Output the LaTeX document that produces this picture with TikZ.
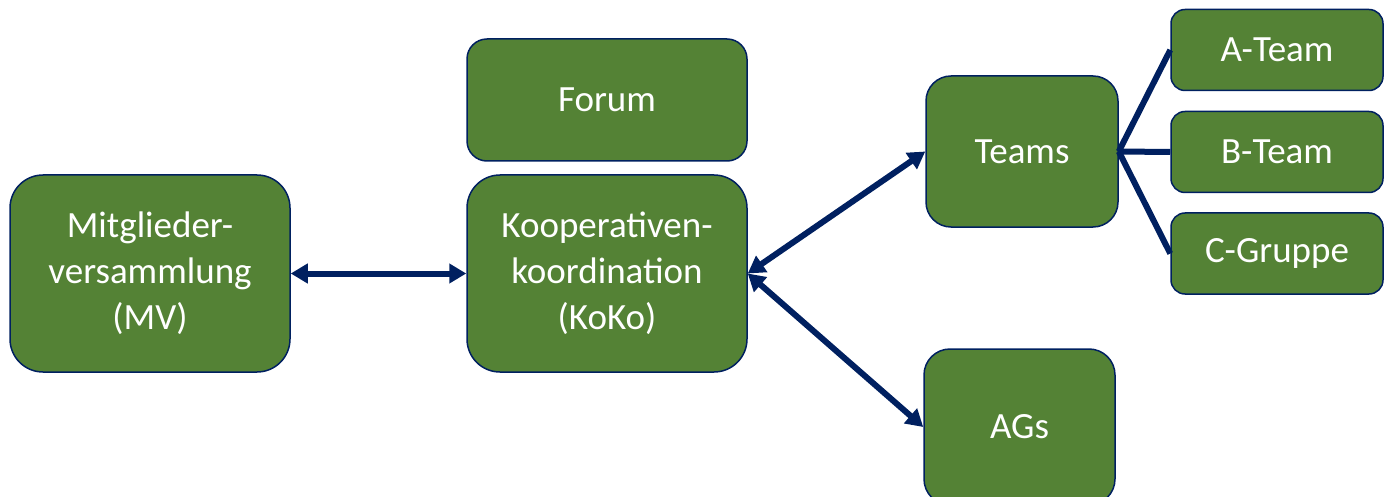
\documentclass[tikz,border=0pt]{standalone}
\usepackage{fontspec}
\setmainfont{Carlito}
\usetikzlibrary{arrows.meta}
\definecolor{navy}{HTML}{002060}
\definecolor{leaf}{HTML}{548235}
\begin{document}
\begin{tikzpicture}[x=1pt, y=-1pt, >={Triangle[length=17pt,width=19pt]},
  main/.style = {draw=navy, fill=leaf, line width=1.5pt, text=white, align=center, inner sep=0pt,
    font=\fontsize{37pt}{46pt}\selectfont},
  big/.style = {main, minimum width=280pt, minimum height=197pt, rounded corners=33pt},
  sub/.style = {main, minimum width=212pt, minimum height=81pt, rounded corners=14pt},
  link/.style = {draw=navy, line width=6pt}]
  \useasboundingbox (0,0) rectangle (1389,497);
  \node[big] (mv) at (150,273.5) {Mitglieder-\\versammlung\\(MV)};
  \node[big] (koko) at (607,273.5) {Kooperativen-\\koordination\\(KoKo)};
  \node[main, minimum width=280pt, minimum height=122pt, rounded corners=20pt] (forum) at (607,100) {Forum};
  \node[main, minimum width=192pt, minimum height=151pt, rounded corners=25pt] (teams) at (1022,151.5) {Teams};
  \node[main, minimum width=191pt, minimum height=156pt, rounded corners=26pt] (ags) at (1019.5,427) {AGs};
  \node[sub] (ateam) at (1277,50) {A-Team};
  \node[sub] (bteam) at (1277,152) {B-Team};
  \node[sub] (cgrp) at (1277,253.5) {C-Gruppe};
  \draw[link, <->] (mv) -- (koko);
  \draw[link, <->] (koko.east) -- (teams.west);
  \draw[link, <->] (koko.east) -- (ags.west);
  \draw[link] (teams.east) -- (ateam.west);
  \draw[link] (teams.east) -- (bteam.west);
  \draw[link] (teams.east) -- (cgrp.west);
\end{tikzpicture}
\end{document}
